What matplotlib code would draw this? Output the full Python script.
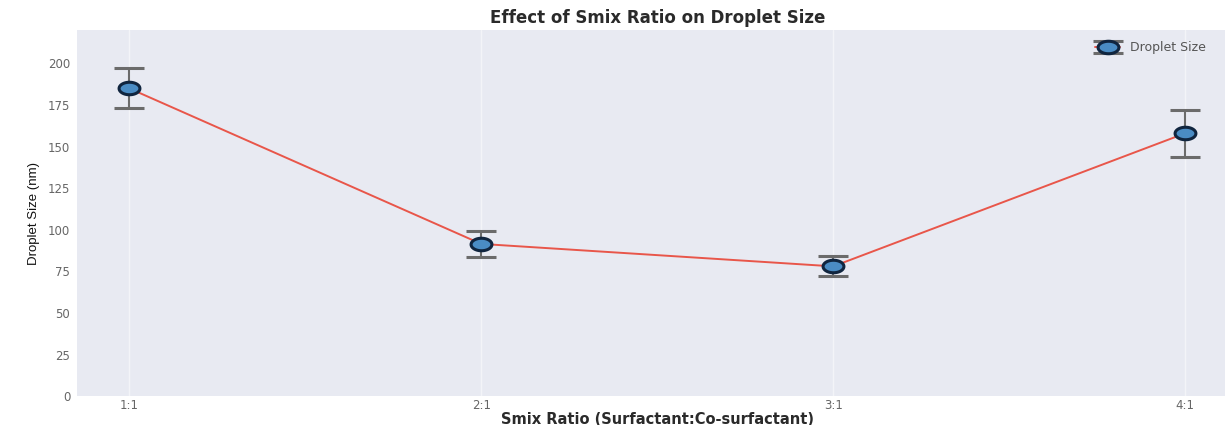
import matplotlib
matplotlib.use("Agg")
import matplotlib.pyplot as plt
from matplotlib.path import Path
import numpy as np

# data
ratios = ["1:1", "2:1", "3:1", "4:1"]
droplet_size = [185, 91.5, 78, 158]
droplet_err = [12, 8, 6, 14]

plt.style.use("seaborn-v0_8-darkgrid")
plt.rcParams['font.family'] = ['DejaVu Sans']

# the source picture is stretched sideways, so the dots are flat ellipses
t = np.linspace(0, 2 * np.pi, 60)
flat_dot = Path(np.column_stack([np.cos(t), 0.6 * np.sin(t)]), closed=True)

fig = plt.figure(figsize=(12.25, 4.25), dpi=100)
ax = fig.add_axes([0.063, 0.068, 0.947, 0.861])
ax.set_facecolor("#e8eaf2")

x = np.arange(len(ratios))
ax.errorbar(x, droplet_size, yerr=droplet_err, fmt="-", marker=flat_dot,
            color="#e8564a", linewidth=1.4, ecolor="#6b6b6b", elinewidth=1.5,
            capsize=11, capthick=1.5, markersize=15,
            markerfacecolor="#4a8cc4", markeredgecolor="#10253f",
            markeredgewidth=2.2, label="Droplet Size")

ax.set_xticks(x)
ax.set_xticklabels(ratios)
ax.set_xlim(-0.148, 3.148)
ax.set_ylim(0, 220)
ax.set_yticks(np.arange(0, 201, 25))
ax.tick_params(axis="both", labelsize=8.5, colors="#666666", length=0)
ax.tick_params(axis="x", pad=2)
ax.tick_params(axis="y", pad=5)
ax.grid(False)
ax.xaxis.grid(True, color="white", alpha=0.5, linewidth=1.0)

ax.set_title("Effect of Smix Ratio on Droplet Size", fontsize=12,
             fontweight="bold", color="#2a2a2a", pad=5)
ax.set_xlabel("Smix Ratio (Surfactant:Co-surfactant)", fontsize=10.5,
              fontweight="bold", color="#2a2a2a", labelpad=0)
ax.set_ylabel("Droplet Size (nm)", fontsize=9.5, color="#111111",
              family=["Liberation Sans Narrow", "Liberation Sans", "DejaVu Sans"],
              labelpad=6)

ax.legend(loc="upper right", fontsize=9, frameon=False,
          bbox_to_anchor=(0.983, 1.0), labelcolor="#555555")

fig.savefig("out.png", dpi=100)
